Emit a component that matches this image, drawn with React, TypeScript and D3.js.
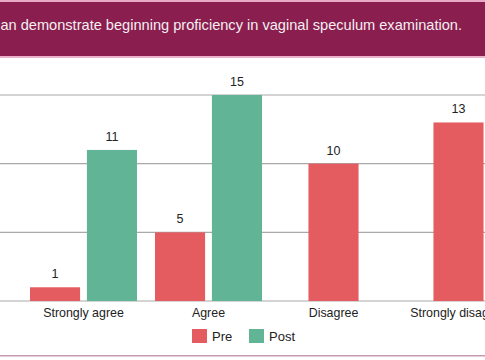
import * as d3 from "d3";
import React from "react";

// 回答カテゴリと系列
const categories = ["Strongly agree", "Agree", "Disagree", "Strongly disagree"];
const seriesNames = ["Pre", "Post"];
const preValues = [1, 5, 10, 13];
const postValues = [11, 15, 0, 0];
const yTicks = [0, 5, 10, 15];
const titleText = "an demonstrate beginning proficiency in vaginal speculum examination.";

const colors: Record<string, string> = { Pre: "#e45c60", Post: "#62b497" };

export default function App() {
  const chartRef = React.useRef<HTMLDivElement>(null);

  React.useEffect(() => {
    if (!chartRef.current) return;
    const width = 485;
    const height = 360;
    const font = "'Liberation Sans', Arial, Helvetica, sans-serif";

    const svg = d3
      .select(chartRef.current)
      .append("svg")
      .attr("width", width)
      .attr("height", height)
      .style("display", "block")
      .style("font-family", font);

    svg.append("rect").attr("width", width).attr("height", height).attr("fill", "#ffffff");

    // タイトル帯
    svg.append("rect").attr("x", 0).attr("y", 0).attr("width", width).attr("height", 2).attr("fill", "#e7a9c4");
    svg.append("rect").attr("x", 0).attr("y", 2).attr("width", width).attr("height", 55).attr("fill", "#8a1e4f");
    svg.append("rect").attr("x", 0).attr("y", 56).attr("width", width).attr("height", 2).attr("fill", "#e9b4cb");
    svg
      .append("text")
      .attr("x", 462)
      .attr("y", 30)
      .attr("text-anchor", "end")
      .attr("fill", "#f4eef1")
      .style("font-size", "14.6px")
      .text(titleText);

    // スケール
    const x0 = d3
      .scaleBand<string>()
      .domain(categories)
      .range([21, 521])
      .paddingInner(0.144)
      .paddingOuter(0.072);
    const x1 = d3
      .scaleBand<string>()
      .domain(seriesNames)
      .range([0, x0.bandwidth()])
      .paddingInner(0.12);
    const y = d3.scaleLinear().domain([0, 15]).range([301, 95]);

    // グリッド線
    svg
      .append("g")
      .selectAll("line")
      .data(yTicks)
      .enter()
      .append("line")
      .attr("x1", 0)
      .attr("x2", width)
      .attr("y1", (d) => y(d))
      .attr("y2", (d) => y(d))
      .attr("stroke", "#a9a9a9")
      .attr("stroke-width", 1.2);

    const rows = categories.map((c, i) => ({ cat: c, Pre: preValues[i], Post: postValues[i] }));

    const groups = svg
      .append("g")
      .selectAll("g")
      .data(rows)
      .enter()
      .append("g")
      .attr("transform", (d) => `translate(${x0(d.cat)},0)`);

    // 値が0の系列は省略し、残りの棒をグループ中央に寄せる
    const cells = groups
      .selectAll("g")
      .data((d) => {
        const present = seriesNames
          .map((s) => ({ key: s, value: (d as any)[s] as number }))
          .filter((v) => v.value > 0);
        const used = present.length * x1.step() - (x1.step() - x1.bandwidth());
        const off = (x0.bandwidth() - used) / 2;
        return present.map((v, j) => ({ ...v, x: off + j * x1.step() }));
      })
      .enter()
      .append("g");

    cells
      .append("rect")
      .attr("x", (d) => d.x)
      .attr("y", (d) => y(d.value))
      .attr("width", x1.bandwidth())
      .attr("height", (d) => y(0) - y(d.value))
      .attr("fill", (d) => colors[d.key]);

    cells
      .append("text")
      .attr("x", (d) => d.x + x1.bandwidth() / 2)
      .attr("y", (d) => y(d.value) - 9)
      .attr("text-anchor", "middle")
      .attr("fill", "#222")
      .style("font-size", "12.5px")
      .text((d) => d.value);

    // カテゴリラベル
    svg
      .append("g")
      .selectAll("text")
      .data(categories)
      .enter()
      .append("text")
      .attr("x", (d) => (x0(d) || 0) + x0.bandwidth() / 2)
      .attr("y", 317)
      .attr("text-anchor", "middle")
      .attr("fill", "#222")
      .style("font-size", "12.4px")
      .text((d) => d);

    // 凡例
    const legend = svg
      .append("g")
      .selectAll("g")
      .data(seriesNames)
      .enter()
      .append("g")
      .attr("transform", (d, i) => `translate(${192 + i * 57},329)`);
    legend.append("rect").attr("width", 15).attr("height", 14).attr("fill", (d) => colors[d]);
    legend
      .append("text")
      .attr("x", 20)
      .attr("y", 12)
      .attr("fill", "#222")
      .style("font-size", "13px")
      .text((d) => d);

    // 下部ライン
    svg.append("rect").attr("x", 0).attr("y", 355).attr("width", width).attr("height", 1.5).attr("fill", "#c79ab0");

    return () => {
      d3.select(chartRef.current).selectAll("*").remove();
    };
  }, []);

  return <div ref={chartRef} style={{ position: "absolute", left: 0, top: 0 }} />;
}
